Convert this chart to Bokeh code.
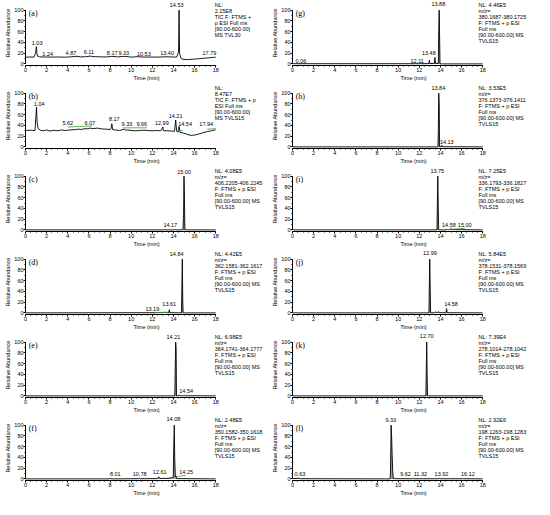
from bokeh.plotting import figure
from bokeh.layouts import gridplot
from bokeh.models import Range1d, SingleIntervalTicker, Label
from bokeh.embed import file_html
from bokeh.resources import INLINE

# ---------------- data ----------------
# (a) TIC TVL30
t_a = [0.0, 0.4, 0.8, 0.95, 1.03, 1.1, 1.18, 1.24, 1.35, 1.9, 2.5, 3.1, 3.7, 4.3, 4.87, 5.2, 5.7, 6.11, 6.6, 7.2,
       7.7, 8.17, 8.7, 9.33, 9.8, 10.2, 10.53, 11.0, 11.6, 12.2, 12.8, 13.4, 13.9, 14.3, 14.48, 14.53, 14.58, 14.7, 14.9, 15.3,
       15.8, 16.3, 16.8, 17.3, 17.79, 18.0]
i_a = [12.5, 12.8, 12.6, 20.0, 32.0, 17.0, 13.4, 14.6, 13.0, 12.8, 12.6, 12.9, 12.5, 13.1, 14.2, 13.0, 13.3, 14.5, 13.3, 13.1,
       12.9, 14.0, 13.1, 14.0, 13.0, 12.7, 13.5, 12.9, 12.7, 12.6, 12.8, 13.3, 12.8, 12.6, 22.0, 100.0, 20.0, 10.5, 8.5, 8.0,
       8.6, 9.4, 10.4, 11.2, 12.2, 12.3]
lab_a = ["1.03", "1.24", "4.87", "6.11", "8.17", "9.33", "10.53", "13.40", "14.53", "17.79"]
lx_a = [1.1, 2.1, 4.3, 6.0, 8.2, 9.3, 11.2, 13.4, 14.3, 17.4]
ly_a = [39, 19, 20, 23, 20, 20, 18, 20, 109, 20]
info_a = ["NL:", "2.15E8", "TIC F: FTMS +", "p ESI Full ms", "[90.00-600.00]", "MS TVL30"]

# (b) TIC TVLS15
t_b = [0.0, 0.5, 0.9, 0.98, 1.04, 1.1, 1.2, 1.4, 1.7, 2.0, 2.3, 2.7, 3.0, 3.4, 3.8, 4.2, 4.6, 5.0, 5.3, 5.62,
       5.9, 6.07, 6.4, 6.8, 7.2, 7.6, 8.0, 8.1, 8.17, 8.25, 8.5, 8.9, 9.33, 9.5, 9.66, 10.0, 10.4, 10.8, 11.2, 11.6,
       12.0, 12.4, 12.8, 12.93, 12.99, 13.05, 13.4, 13.8, 14.1, 14.21, 14.3, 14.45, 14.54, 14.62, 14.9, 15.2, 15.6, 16.0, 16.4, 16.8,
       17.2, 17.6, 17.94, 18.0]
i_b = [30.5, 31.0, 30.5, 55.0, 74.0, 45.0, 34.0, 31.0, 30.0, 31.5, 29.5, 31.0, 30.0, 31.5, 30.5, 31.5, 32.0, 33.0, 32.5, 34.0,
       33.5, 35.0, 34.0, 35.0, 33.5, 33.0, 32.5, 34.0, 43.0, 32.0, 31.5, 30.5, 33.0, 31.0, 31.5, 30.5, 30.0, 30.5, 31.0, 30.5,
       30.0, 30.5, 30.0, 34.0, 37.0, 30.0, 30.0, 29.5, 29.0, 50.0, 29.0, 27.5, 38.0, 27.0, 26.0, 24.0, 21.5, 22.0, 24.0, 26.5,
       28.5, 30.0, 31.5, 32.0]
gxs_b = [[4.0, 6.3], [9.2, 11.5], [14.4, 14.9], [17.2, 18.0]]
gys_b = [[37, 39], [35.5, 35.5], [31, 30], [33, 34]]
lab_b = ["1.04", "5.62", "6.07", "8.17", "9.33", "9.66", "12.99", "14.21", "14.54", "17.94"]
lx_b = [1.3, 4.0, 6.1, 8.4, 9.6, 11.0, 12.9, 14.2, 15.1, 17.1]
ly_b = [80, 45, 45, 52, 43, 42, 45, 58, 42, 42]
info_b = ["NL:", "8.47E7", "TIC F: FTMS + p", "ESI Full ms", "[90.00-600.00]", "MS TVLS15"]

# (c)
t_c = [0.0, 14.1, 14.17, 14.24, 14.9, 14.96, 15.0, 15.04, 15.08, 18.0]
i_c = [0.0, 0.0, 0.8, 0.0, 0.0, 30.0, 100.0, 60.0, 0.0, 0.0]
lab_c = ["14.17", "15.00"]
lx_c = [13.7, 15.0]
ly_c = [10, 108]
info_c = ["NL: 4.08E5", "m/z=", "406.2205-406.2245", "F: FTMS + p ESI", "Full ms", "[90.00-600.00]  MS", "TVLS15"]

# (d)
t_d = [0.0, 12.3, 13.0, 13.19, 13.35, 13.55, 13.61, 13.67, 14.76, 14.8, 14.84, 14.88, 14.92, 18.0]
i_d = [0.0, 0.3, 0.5, 1.2, 0.4, 0.3, 6.0, 0.3, 0.0, 50.0, 100.0, 25.0, 0.0, 0.0]
gxs_d = [[12.3, 13.5]]
gys_d = [[0.6, 1.2]]
lab_d = ["13.19", "13.61", "14.84"]
lx_d = [12.0, 13.6, 14.3]
ly_d = [8, 17, 109]
info_d = ["NL: 4.42E5", "m/z=", "362.1581-362.1617", "F: FTMS + p ESI", "Full ms", "[90.00-600.00]  MS", "TVLS15"]

# (e)
t_e = [0.0, 14.13, 14.17, 14.21, 14.25, 14.29, 14.48, 14.54, 14.6, 18.0]
i_e = [0.0, 0.0, 50.0, 100.0, 90.0, 0.0, 0.0, 2.0, 0.3, 0.0]
gxs_e = [[14.6, 15.4]]
gys_e = [[0.8, 1.2]]
lab_e = ["14.21", "14.54"]
lx_e = [14.0, 15.2]
ly_e = [109, 9]
info_e = ["NL: 6.98E5", "m/z=", "364.1741-364.1777", "F: FTMS + p ESI", "Full ms", "[90.00-600.00]  MS", "TVLS15"]

# (f)
t_f = [0.0, 7.9, 8.01, 8.1, 10.7, 10.78, 10.86, 12.5, 12.61, 12.7, 13.5, 13.8, 13.98, 14.03, 14.08, 14.12, 14.18, 14.25, 14.3, 18.0]
i_f = [0.0, 0.0, 1.0, 0.0, 0.3, 1.5, 0.3, 0.5, 4.0, 0.8, 1.0, 2.0, 3.0, 60.0, 100.0, 40.0, 4.0, 5.5, 0.5, 0.0]
gxs_f = [[14.3, 15.2]]
gys_f = [[4.0, 7.0]]
lab_f = ["8.01", "10.78", "12.61", "14.08", "14.25"]
lx_f = [8.5, 10.8, 12.7, 14.0, 15.2]
ly_f = [10, 10, 13, 112, 12]
info_f = ["NL: 2.48E5", "m/z=", "350.1582-350.1618", "F: FTMS + p ESI", "Full ms", "[90.00-600.00]  MS", "TVLS15"]

# (g)
t_g = [0.0, 0.06, 0.12, 12.05, 12.11, 12.17, 12.9, 12.95, 13.0, 13.43, 13.48, 13.53, 13.8, 13.84, 13.88, 13.92, 13.96, 18.0]
i_g = [0.5, 1.0, 0.3, 0.3, 1.5, 0.3, 0.5, 7.0, 0.5, 1.0, 12.0, 1.0, 1.0, 60.0, 100.0, 50.0, 0.0, 0.0]
lab_g = ["0.06", "12.11", "13.48", "13.88"]
lx_g = [0.8, 11.8, 12.9, 13.8]
ly_g = [6, 6, 21, 112]
info_g = ["NL: 4.46E5", "m/z=", "380.1687-380.1725", "F: FTMS + p ESI", "Full ms", "[90.00-600.00]  MS", "TVLS15"]

# (h)
t_h = [0.0, 13.76, 13.8, 13.84, 13.88, 13.92, 14.07, 14.13, 14.19, 18.0]
i_h = [0.0, 0.0, 30.0, 100.0, 80.0, 0.0, 0.0, 3.0, 0.3, 0.0]
lab_h = ["13.84", "14.13"]
lx_h = [13.8, 14.6]
ly_h = [109, 10]
info_h = ["NL: 3.53E5", "m/z=", "376.1373-376.1411", "F: FTMS + p ESI", "Full ms", "[90.00-600.00]  MS", "TVLS15"]

# (i)
t_i = [0.0, 13.67, 13.71, 13.75, 13.79, 13.83, 14.52, 14.58, 14.64, 14.94, 15.0, 15.06, 18.0]
i_i = [0.0, 0.0, 50.0, 100.0, 45.0, 0.0, 0.0, 1.5, 0.3, 0.5, 2.5, 0.5, 0.0]
gxs_i = [[14.6, 16.3]]
gys_i = [[0.5, 3.0]]
lab_i = ["13.75", "14.58", "15.00"]
lx_i = [13.7, 14.8, 16.3]
ly_i = [109, 9, 9]
info_i = ["NL: 7.25E5", "m/z=", "336.1793-336.1827", "F: FTMS + p ESI", "Full ms", "[90.00-600.00]  MS", "TVLS15"]

# (j)
t_j = [0.0, 12.91, 12.95, 12.99, 13.03, 13.07, 13.45, 13.52, 13.6, 13.72, 13.8, 13.88, 14.52, 14.58, 14.64, 18.0]
i_j = [0.0, 0.0, 50.0, 100.0, 45.0, 0.0, 0.3, 2.0, 0.5, 0.5, 2.5, 0.3, 0.3, 8.0, 0.3, 0.0]
lab_j = ["12.99", "14.58"]
lx_j = [13.0, 15.0]
ly_j = [111, 16]
info_j = ["NL: 5.84E5", "m/z=", "378.1531-378.1569", "F: FTMS + p ESI", "Full ms", "[90.00-600.00]  MS", "TVLS15"]

# (k)
t_k = [0.0, 12.62, 12.66, 12.70, 12.74, 12.78, 18.0]
i_k = [0.0, 0.0, 45.0, 100.0, 40.0, 0.0, 0.0]
lab_k = ["12.70"]
lx_k = [12.7]
ly_k = [111]
info_k = ["NL: 7.39E4", "m/z=", "278.1014-278.1042", "F: FTMS + p ESI", "Full ms", "[90.00-600.00]  MS", "TVLS15"]

# (l)
t_l = [0.0, 0.63, 0.7, 9.24, 9.28, 9.33, 9.38, 9.43, 9.48, 9.54, 9.62, 9.68, 11.26, 11.32, 11.38, 13.86, 13.92, 13.98, 16.06, 16.12, 16.18, 18.0]
i_l = [0.3, 1.2, 0.3, 0.0, 20.0, 100.0, 80.0, 45.0, 15.0, 0.3, 1.5, 0.3, 0.2, 1.0, 0.2, 0.2, 0.8, 0.2, 0.2, 0.8, 0.2, 0.0]
lab_l = ["0.63", "9.33", "9.62", "11.32", "13.92", "16.12"]
lx_l = [0.7, 9.3, 10.7, 12.1, 14.1, 16.6]
ly_l = [10, 109, 10, 10, 10, 10]
info_l = ["NL: 2.92E6", "m/z=", "198.1263-198.1283", "F: FTMS + p ESI", "Full ms", "[90.00-600.00]  MS", "TVLS15"]

# ---------------- drawing ----------------
W, H = 267, 83
SANS = "Liberation Sans"
SERIF = "Liberation Serif"
X_MAX = 22.9   # extra room right of the 18 min axis for the info block
Y_MAX = 118    # extra room above 100 % for peak labels


def panel(letter, t, inten, labs, lx, ly, info, gxs=None, gys=None, fill=True, info_x=17.8):
    p = figure(width=W, height=H, x_range=Range1d(0, X_MAX), y_range=Range1d(-3, Y_MAX),
               output_backend="svg", toolbar_location=None,
               min_border_left=25, min_border_right=0, min_border_top=0, min_border_bottom=14)
    p.outline_line_color = None
    p.xgrid.visible = False
    p.ygrid.visible = False
    p.xaxis.ticker = SingleIntervalTicker(interval=2, num_minor_ticks=4)
    p.yaxis.ticker = SingleIntervalTicker(interval=20, num_minor_ticks=2)
    p.xaxis.bounds = (0, 18)
    p.yaxis.bounds = (0, 100)
    p.xaxis.axis_label = "Time (min)"
    p.yaxis.axis_label = "Relative Abundance"
    for ax in (p.xaxis[0], p.yaxis[0]):
        ax.major_label_text_font = SANS
        ax.major_label_text_font_size = "5.5px"
        ax.axis_label_text_font = SANS
        ax.axis_label_text_font_size = "5.5px"
        ax.axis_label_text_font_style = "normal"
        ax.major_tick_out = 2
        ax.major_tick_in = 0
        ax.minor_tick_out = 1
        ax.minor_tick_in = 0
        ax.major_label_standoff = 0
        ax.axis_label_standoff = 0
        ax.axis_line_color = "black"
        ax.major_tick_line_color = "black"
        ax.minor_tick_line_color = "black"
        ax.major_label_text_color = "black"
        ax.axis_label_text_color = "black"
    if fill:
        p.varea(x=t, y1=[0] * len(t), y2=inten, fill_color="#9a9a9a")
    p.line(t, inten, line_color="black", line_width=0.9)
    if gxs:
        p.multi_line(gxs, gys, line_color="#3a9d3a", line_width=0.8)
    for s, x, y in zip(labs, lx, ly):
        p.add_layout(Label(x=x, y=y, text=s, text_font=SANS, text_font_size="5.5px",
                           text_align="center", text_baseline="middle", text_color="black"))
    p.add_layout(Label(x=0.3, y=93, text=letter, text_font=SERIF, text_font_size="8px",
                       text_baseline="middle", text_color="black"))
    for k, s in enumerate(info):
        p.add_layout(Label(x=info_x, y=109 - k * 11, text=s, text_font=SANS, text_font_size="5.5px",
                           text_align="left", text_baseline="middle", text_color="black"))
    return p


pa = panel("(a)", t_a, i_a, lab_a, lx_a, ly_a, info_a, fill=False, info_x=17.9)
pb = panel("(b)", t_b, i_b, lab_b, lx_b, ly_b, info_b, gxs_b, gys_b, fill=False, info_x=17.9)
pc = panel("(c)", t_c, i_c, lab_c, lx_c, ly_c, info_c, info_x=17.9)
pd = panel("(d)", t_d, i_d, lab_d, lx_d, ly_d, info_d, gxs_d, gys_d, info_x=17.9)
pe = panel("(e)", t_e, i_e, lab_e, lx_e, ly_e, info_e, gxs_e, gys_e, info_x=17.9)
pf = panel("(f)", t_f, i_f, lab_f, lx_f, ly_f, info_f, gxs_f, gys_f, info_x=17.9)
pg = panel("(g)", t_g, i_g, lab_g, lx_g, ly_g, info_g, info_x=17.6)
ph = panel("(h)", t_h, i_h, lab_h, lx_h, ly_h, info_h, info_x=17.6)
pi = panel("(i)", t_i, i_i, lab_i, lx_i, ly_i, info_i, gxs_i, gys_i, info_x=17.6)
pj = panel("(j)", t_j, i_j, lab_j, lx_j, ly_j, info_j, info_x=17.6)
pk = panel("(k)", t_k, i_k, lab_k, lx_k, ly_k, info_k, info_x=17.6)
pl = panel("(l)", t_l, i_l, lab_l, lx_l, ly_l, info_l, info_x=17.6)

grid = gridplot([[pa, pg], [pb, ph], [pc, pi], [pd, pj], [pe, pk], [pf, pl]], toolbar_location=None)

open("out.html", "w").write(file_html(grid, INLINE))
